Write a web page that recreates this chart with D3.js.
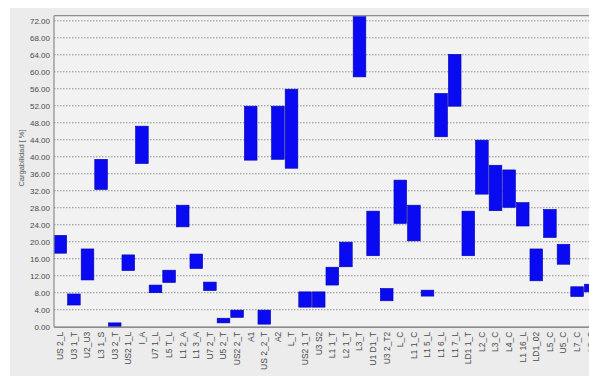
<!DOCTYPE html>
<html>
<head>
<meta charset="utf-8">
<script src="https://cdn.jsdelivr.net/npm/d3@7/dist/d3.min.js"></script>
<style>
  html, body { margin: 0; padding: 0; background: #ffffff; }
  svg { display: block; }
  text { font-family: "Liberation Sans", Arial, sans-serif; }
</style>
</head>
<body>
<svg id="chart" width="589" height="376"></svg>
<script>
// Loading ranges per element: each bar spans from its minimum to its maximum value
const categories = [
  "US 2_L", "U3 1_T", "U2_U3", "L3 1_S", "U3 2_T", "US2 1_L", "I_A", "U7 1_L",
  "L5 T_L", "L1 2_A", "L1 3_A", "U7 2_T", "U5 2_T", "US2 2_T", "A1", "US 2_2_T",
  "A2", "L_T", "US2 1_T", "U3 S2", "L1 1_T", "L2 1_T", "L3_T", "U1 D1_T",
  "U3 2_T2", "L_C", "L1 1_C", "L1 5_L", "L1 6_L", "L1 7_L", "LD1 1_T", "L2_C",
  "L3_C", "L4_C", "L1 16_L", "LD1_02", "L5_C", "U5_C", "L7_C", "L8_C"
];
const minValues = [
  17.3, 5.1, 11.0, 32.3, 0.0, 13.2, 38.4, 8.0,
  10.4, 23.5, 13.7, 8.5, 0.9, 2.2, 39.2, 0.6,
  39.4, 37.3, 4.6, 4.6, 9.8, 14.1, 58.8, 16.7,
  6.1, 24.3, 20.2, 7.2, 44.7, 51.9, 16.7, 31.2,
  27.3, 28.1, 23.7, 10.8, 21.0, 14.7, 7.1, 8.2
];
const maxValues = [
  21.5, 7.7, 18.3, 39.4, 0.9, 16.9, 47.2, 9.8,
  13.3, 28.6, 17.1, 10.5, 2.0, 3.9, 51.9, 3.9,
  51.9, 55.9, 8.2, 8.2, 14.0, 19.9, 73.0, 27.2,
  9.0, 34.5, 28.6, 8.6, 54.9, 64.1, 27.2, 43.9,
  38.0, 36.9, 29.2, 18.3, 27.6, 19.4, 9.4, 10.0
];
const yTicks = [0, 4, 8, 12, 16, 20, 24, 28, 32, 36, 40, 44, 48, 52, 56, 60, 64, 68, 72];
const yTitle = "Cargabilidad [ %]";

const svg = d3.select("#chart");
const W = 589, H = 376;
const plot = { left: 54, top: 15.7, bottom: 326.7 };

// panel background
svg.append("rect").attr("x", 0).attr("y", 0).attr("width", W).attr("height", H).attr("fill", "#ffffff");
svg.append("rect").attr("x", 10).attr("y", 8).attr("width", W - 10).attr("height", H - 8).attr("fill", "#ececec");
svg.append("rect").attr("x", plot.left).attr("y", plot.top)
  .attr("width", W - plot.left).attr("height", plot.bottom - plot.top).attr("fill", "#f2f2f2");

const x = d3.scaleBand()
  .domain(categories)
  .range([53.5, 53.5 + 13.6 * categories.length])
  .paddingInner(0.07)
  .paddingOuter(0.035);

const y = d3.scaleLinear().domain([0, 73.2]).range([plot.bottom, plot.top]);

// dotted gridlines
svg.append("g").selectAll("line").data(yTicks.filter(d => d > 0)).join("line")
  .attr("x1", plot.left).attr("x2", W)
  .attr("y1", d => y(d)).attr("y2", d => y(d))
  .attr("stroke", "#8f8f8f").attr("stroke-width", 1)
  .attr("stroke-dasharray", "1.5,1.5");

// clip marks to the plot frame
svg.append("clipPath").attr("id", "plotClip").append("rect")
  .attr("x", plot.left).attr("y", plot.top)
  .attr("width", W - plot.left).attr("height", plot.bottom - plot.top);

const data = categories.map((c, i) => ({ c, lo: minValues[i], hi: maxValues[i] }));

svg.append("g").attr("clip-path", "url(#plotClip)")
  .selectAll("rect").data(data).join("rect")
  .attr("x", d => x(d.c))
  .attr("width", x.bandwidth())
  .attr("y", d => y(d.hi))
  .attr("height", d => y(d.lo) - y(d.hi))
  .attr("fill", "#0a0af2")
  .attr("stroke", "#0000b0")
  .attr("stroke-width", 0.6);

// frame lines
svg.append("line").attr("x1", plot.left).attr("x2", W).attr("y1", plot.top).attr("y2", plot.top)
  .attr("stroke", "#8c8c8c").attr("stroke-width", 1.2);
svg.append("line").attr("x1", plot.left).attr("x2", plot.left).attr("y1", plot.top).attr("y2", plot.bottom)
  .attr("stroke", "#8c8c8c").attr("stroke-width", 1.2);

// y axis
const yAxis = d3.axisLeft(y).tickValues(yTicks).tickFormat(d3.format(".2f")).tickSize(0).tickPadding(4);
const gy = svg.append("g").attr("transform", `translate(${plot.left},0)`).call(yAxis);
gy.select(".domain").remove();
gy.selectAll("text").attr("font-size", 8).attr("fill", "#4a4a4a").attr("font-family", "Liberation Sans, Arial, sans-serif");

// x axis
const xAxis = d3.axisBottom(x).tickSize(0).tickPadding(4);
const gx = svg.append("g").attr("transform", `translate(0,${plot.bottom})`).call(xAxis);
gx.select(".domain").attr("stroke", "#6e6e6e").attr("stroke-width", 1.3);
gx.selectAll("text")
  .attr("font-size", 8.5).attr("fill", "#4a4a4a").attr("font-family", "Liberation Sans, Arial, sans-serif")
  .attr("text-anchor", "end")
  .attr("transform", "rotate(-90)")
  .attr("x", -5).attr("y", 0).attr("dy", "0.35em");

// y axis title
svg.append("text")
  .attr("transform", `translate(24,158) rotate(-90)`)
  .attr("text-anchor", "middle")
  .attr("font-size", 7.5)
  .attr("fill", "#5a5a5a")
  .text(yTitle);
</script>
</body>
</html>
